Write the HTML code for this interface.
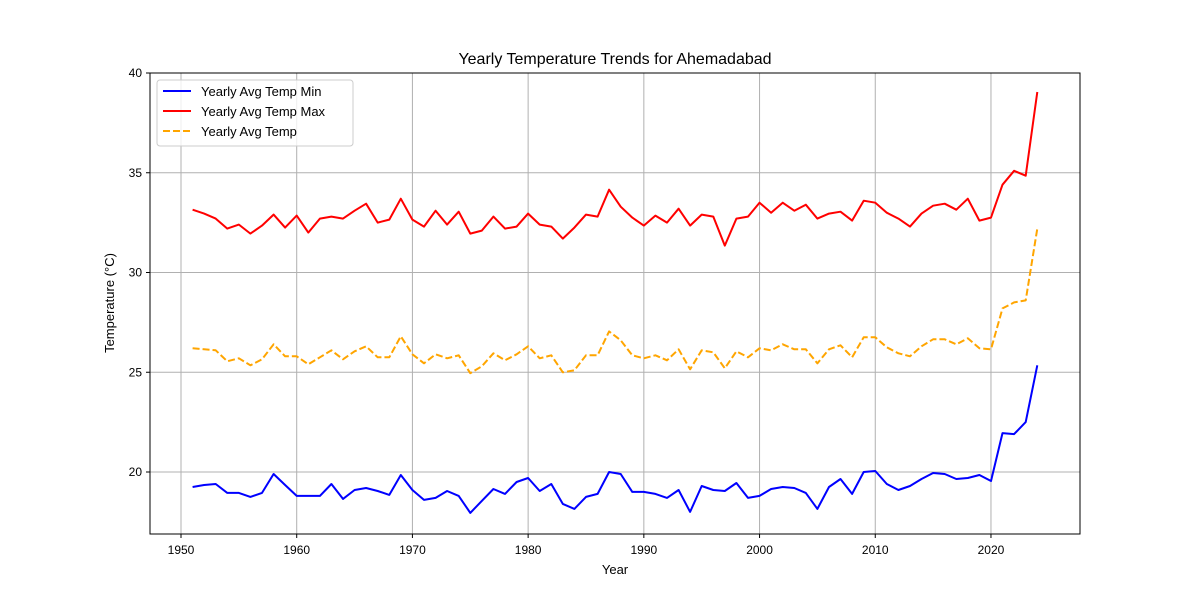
<!DOCTYPE html>
<html><head><meta charset="utf-8"><style>
body{margin:0;background:#fff;}
svg text{font-family:"Liberation Sans","DejaVu Sans",sans-serif;fill:#000;}
</style></head><body>
<svg id="chart" width="1200" height="600" xmlns="http://www.w3.org/2000/svg">
<rect width="1200" height="600" fill="#fff"/>
<g id="grid"></g>
<g id="series"></g>
<rect x="150" y="73" width="930" height="461" fill="none" stroke="#000" stroke-width="1"/>
<g id="axes"></g>
<text x="615" y="64" font-size="16" text-anchor="middle">Yearly Temperature Trends for Ahemadabad</text>
<text x="615" y="574" font-size="13" text-anchor="middle">Year</text>
<text transform="translate(114,303) rotate(-90)" font-size="13" text-anchor="middle">Temperature (°C)</text>
<g>
<rect x="157" y="80" width="196" height="66" fill="#fff" fill-opacity="0.8" stroke="#ccc" rx="3"/>
<g><line x1="163" y1="91" x2="191" y2="91" stroke="blue" stroke-width="2"/><text x="201" y="96" font-size="13">Yearly Avg Temp Min</text></g>
<g><line x1="163" y1="111" x2="191" y2="111" stroke="red" stroke-width="2"/><text x="201" y="116" font-size="13">Yearly Avg Temp Max</text></g>
<g><line x1="163" y1="131" x2="191" y2="131" stroke="orange" stroke-width="2" stroke-dasharray="7,3"/><text x="201" y="136" font-size="13">Yearly Avg Temp</text></g>
</g>
</svg>
<script>
const startYear = 1951;
const tempMax = [33.15,32.95,32.7,32.2,32.4,31.95,32.35,32.9,32.25,32.85,32.0,32.7,32.8,32.7,33.1,33.45,32.5,32.65,33.7,32.65,32.3,33.1,32.4,33.05,31.95,32.1,32.8,32.2,32.3,32.95,32.4,32.3,31.7,32.25,32.9,32.8,34.15,33.3,32.75,32.35,32.85,32.5,33.2,32.35,32.9,32.8,31.35,32.7,32.8,33.5,33.0,33.5,33.1,33.4,32.7,32.95,33.05,32.6,33.6,33.5,33.0,32.7,32.3,32.95,33.35,33.45,33.15,33.7,32.6,32.75,34.4,35.1,34.85,39.05];
const tempAvg = [26.2,26.15,26.1,25.55,25.7,25.35,25.65,26.4,25.8,25.8,25.4,25.75,26.1,25.65,26.05,26.3,25.75,25.75,26.8,25.9,25.45,25.9,25.7,25.85,24.95,25.3,25.95,25.6,25.9,26.3,25.7,25.85,25.0,25.1,25.85,25.85,27.05,26.6,25.85,25.7,25.85,25.6,26.15,25.15,26.1,26.0,25.2,26.05,25.75,26.2,26.1,26.4,26.15,26.15,25.45,26.15,26.35,25.75,26.75,26.75,26.25,25.95,25.8,26.3,26.65,26.65,26.4,26.7,26.2,26.15,28.2,28.5,28.6,32.2];
const tempMin = [19.25,19.35,19.4,18.95,18.95,18.75,18.95,19.9,19.35,18.8,18.8,18.8,19.4,18.65,19.1,19.2,19.05,18.85,19.85,19.1,18.6,18.7,19.05,18.8,17.95,18.55,19.15,18.9,19.5,19.7,19.05,19.4,18.4,18.15,18.75,18.9,20.0,19.9,19.0,19.0,18.9,18.7,19.1,18.0,19.3,19.1,19.05,19.45,18.7,18.8,19.15,19.25,19.2,18.95,18.15,19.25,19.65,18.9,20.0,20.05,19.4,19.1,19.3,19.65,19.95,19.9,19.65,19.7,19.85,19.55,21.95,21.9,22.5,25.35];
const xTicks = [1950,1960,1970,1980,1990,2000,2010,2020];
const yTicks = [20,25,30,35,40];

const NS="http://www.w3.org/2000/svg";
const X = y => 181 + (y-1950)*11.571;
const Y = v => 73 + (40-v)*19.95;
function mk(tag, attrs, parent){const e=document.createElementNS(NS,tag);for(const k in attrs)e.setAttribute(k,attrs[k]);parent.appendChild(e);return e;}
const grid=document.getElementById('grid'), axes=document.getElementById('axes'), series=document.getElementById('series');
xTicks.forEach(t=>{
  const gl=mk('line',{x1:X(t),x2:X(t),y1:73,y2:534,stroke:'#b0b0b0','stroke-width':1},grid);
  
  
  mk('line',{x1:X(t),x2:X(t),y1:534,y2:538,stroke:'#000'},axes);
  const tx=mk('text',{x:X(t),y:554,'font-size':12,'text-anchor':'middle'},axes);tx.textContent=t;
  
  
});
yTicks.forEach(t=>{
  const gl=mk('line',{x1:150,x2:1080,y1:Y(t),y2:Y(t),stroke:'#b0b0b0','stroke-width':1},grid);
  
  
  mk('line',{x1:146,x2:150,y1:Y(t),y2:Y(t),stroke:'#000'},axes);
  const tx=mk('text',{x:142,y:Y(t)+4,'font-size':12,'text-anchor':'end'},axes);tx.textContent=t;
  
  
});
function line(vals,color,dash,name){
  const pts=vals.map((v,i)=>X(startYear+i).toFixed(1)+','+Y(v).toFixed(1)).join(' ');
  const p=mk('polyline',{points:pts,fill:'none',stroke:color,'stroke-width':2,'stroke-linejoin':'round'},series);
  if(dash)p.setAttribute('stroke-dasharray',dash);
  
  
}
line(tempMin,'blue',null,'line-temp-min');
line(tempMax,'red',null,'line-temp-max');
line(tempAvg,'orange','7,3','line-temp-avg');
</script>
</body></html>
